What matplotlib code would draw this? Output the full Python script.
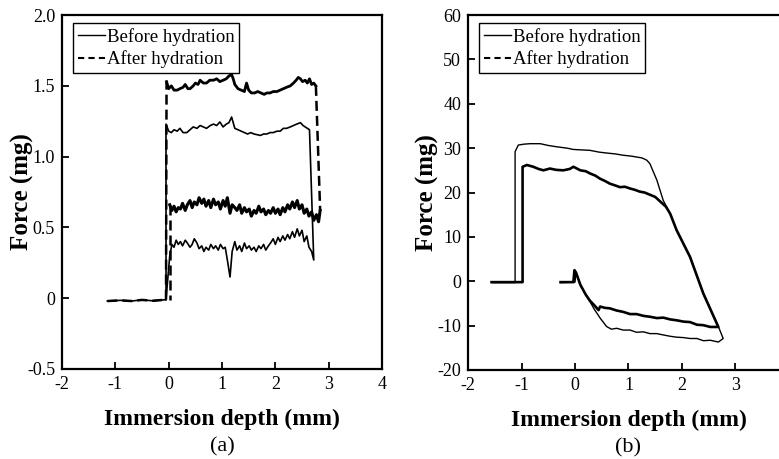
import matplotlib
matplotlib.use('Agg')
import matplotlib.pyplot as plt
from matplotlib.lines import Line2D

plt.rcParams['font.family'] = ['Liberation Serif', 'DejaVu Serif']
plt.rcParams['axes.unicode_minus'] = False
plt.rcParams['xtick.direction'] = 'in'
plt.rcParams['ytick.direction'] = 'in'

# ---------------- panel (a) ----------------
a_base_x = [-1.15, -0.9, -0.7, -0.5, -0.3, -0.1, -0.05]
a_base_y = [-0.02, -0.015, -0.02, -0.012, -0.018, -0.012, -0.01]

# before hydration, advancing
a_bef_adv_x = [-0.05, 0.0, 0.05, 0.1, 0.16, 0.21, 0.27, 0.34, 0.4, 0.46,
               0.53, 0.59, 0.65, 0.71, 0.78, 0.84, 0.9, 0.96, 1.02, 1.08,
               1.13, 1.18, 1.24, 1.3, 1.36, 1.42, 1.48, 1.54, 1.6, 1.66,
               1.72, 1.78, 1.84, 1.9, 1.96, 2.03, 2.09, 2.15, 2.21, 2.28,
               2.34, 2.4, 2.47, 2.52, 2.56, 2.6, 2.64]
a_bef_adv_y = [1.23, 1.18, 1.17, 1.19, 1.18, 1.20, 1.17, 1.17, 1.19, 1.21,
               1.20, 1.22, 1.21, 1.20, 1.22, 1.23, 1.22, 1.245, 1.21, 1.23,
               1.24, 1.28, 1.20, 1.19, 1.18, 1.17, 1.16, 1.17, 1.16, 1.155,
               1.15, 1.16, 1.16, 1.17, 1.17, 1.18, 1.18, 1.20, 1.20, 1.21,
               1.22, 1.23, 1.24, 1.22, 1.21, 1.20, 1.19]

# before hydration, receding
a_bef_rec_x = [0.02, 0.06, 0.1, 0.14, 0.18, 0.22, 0.26, 0.31, 0.35, 0.4,
               0.44, 0.48, 0.53, 0.57, 0.62, 0.66, 0.7, 0.75, 0.79, 0.84,
               0.88, 0.93, 0.97, 1.02, 1.06, 1.1, 1.15, 1.19, 1.24, 1.28,
               1.33, 1.37, 1.42, 1.46, 1.51, 1.55, 1.6, 1.64, 1.69, 1.73,
               1.78, 1.82, 1.87, 1.91, 1.96, 2.0, 2.05, 2.09, 2.14, 2.18,
               2.23, 2.27, 2.32, 2.36, 2.41, 2.45, 2.5, 2.54, 2.59, 2.63,
               2.68, 2.72]
a_bef_rec_y = [0.30, 0.38, 0.36, 0.41, 0.38, 0.40, 0.37, 0.41, 0.39, 0.36,
               0.38, 0.42, 0.39, 0.35, 0.37, 0.33, 0.36, 0.34, 0.38, 0.35,
               0.37, 0.34, 0.38, 0.35, 0.36, 0.27, 0.15, 0.33, 0.40, 0.34,
               0.37, 0.33, 0.39, 0.35, 0.37, 0.34, 0.36, 0.33, 0.37, 0.35,
               0.38, 0.34, 0.37, 0.39, 0.42, 0.38, 0.43, 0.40, 0.44, 0.41,
               0.45, 0.42, 0.47, 0.43, 0.49, 0.44, 0.48, 0.40, 0.44, 0.36,
               0.33, 0.27]

# after hydration, advancing
a_aft_adv_x = [-0.04, 0.0, 0.05, 0.1, 0.16, 0.21, 0.27, 0.31, 0.36, 0.4,
               0.46, 0.5, 0.55, 0.59, 0.65, 0.71, 0.77, 0.84, 0.9, 0.96,
               1.02, 1.08, 1.13, 1.18, 1.21, 1.24, 1.3, 1.36, 1.42, 1.46,
               1.5, 1.55, 1.61, 1.67, 1.73, 1.79, 1.84, 1.9, 1.96, 2.03,
               2.09, 2.15, 2.21, 2.28, 2.34, 2.39, 2.43, 2.47, 2.51, 2.56,
               2.6, 2.64, 2.68, 2.72, 2.76]
a_aft_adv_y = [1.53, 1.48, 1.50, 1.47, 1.47, 1.48, 1.49, 1.51, 1.48, 1.48,
               1.50, 1.52, 1.51, 1.54, 1.52, 1.52, 1.54, 1.54, 1.55, 1.53,
               1.54, 1.55, 1.57, 1.58, 1.55, 1.51, 1.48, 1.47, 1.46, 1.52,
               1.47, 1.45, 1.45, 1.46, 1.45, 1.44, 1.45, 1.45, 1.46, 1.46,
               1.47, 1.48, 1.49, 1.50, 1.52, 1.54, 1.56, 1.55, 1.53, 1.54,
               1.52, 1.55, 1.51, 1.52, 1.50]

# after hydration, receding
a_aft_rec_x = [0.02, 0.06, 0.1, 0.14, 0.18, 0.22, 0.26, 0.31, 0.35, 0.4,
               0.44, 0.48, 0.53, 0.57, 0.62, 0.66, 0.7, 0.75, 0.79, 0.84,
               0.88, 0.93, 0.97, 1.02, 1.06, 1.1, 1.15, 1.19, 1.24, 1.28,
               1.33, 1.37, 1.42, 1.46, 1.51, 1.55, 1.6, 1.64, 1.69, 1.73,
               1.78, 1.82, 1.87, 1.91, 1.96, 2.0, 2.05, 2.09, 2.14, 2.18,
               2.23, 2.27, 2.32, 2.36, 2.41, 2.45, 2.5, 2.54, 2.59, 2.63,
               2.68, 2.72, 2.77, 2.81, 2.84]
a_aft_rec_y = [0.66, 0.62, 0.65, 0.61, 0.64, 0.63, 0.67, 0.62, 0.66, 0.69,
               0.64, 0.68, 0.66, 0.71, 0.67, 0.70, 0.65, 0.69, 0.64, 0.70,
               0.66, 0.68, 0.63, 0.69, 0.65, 0.71, 0.60, 0.66, 0.64, 0.62,
               0.66, 0.60, 0.64, 0.61, 0.63, 0.58, 0.62, 0.60, 0.65, 0.61,
               0.63, 0.59, 0.62, 0.60, 0.64, 0.60, 0.63, 0.59, 0.64, 0.61,
               0.66, 0.63, 0.68, 0.64, 0.69, 0.63, 0.66, 0.60, 0.63, 0.58,
               0.61, 0.55, 0.59, 0.54, 0.62]

a_yticks = [-0.5, 0, 0.5, 1.0, 1.5, 2.0]
a_yticklabels = ['-0.5', '0', '0.5', '1.0', '1.5', '2.0']

# ---------------- panel (b) ----------------
b_bef_x = [-1.55, -1.12, -1.12, -1.06, -0.95, -0.84, -0.65, -0.5, -0.34,
           -0.15, -0.03, 0.12, 0.28, 0.45, 0.59, 0.75, 0.9, 1.05, 1.15,
           1.25, 1.34, 1.4, 1.53, 1.65, 1.78, 1.9, 2.15, 2.4, 2.68, 2.77,
           2.68, 2.53, 2.4, 2.28, 2.15, 2.03, 1.9, 1.78, 1.65, 1.53, 1.4,
           1.28, 1.15, 1.03, 0.9, 0.78, 0.68, 0.59, 0.47, 0.36, 0.28, 0.2,
           0.1, 0.02, 0.0, -0.27]
b_bef_y = [-0.3, -0.3, 29.2, 30.7, 30.9, 31.0, 31.0, 30.6, 30.3, 30.0,
           29.7, 29.6, 29.5, 29.1, 28.9, 28.7, 28.4, 28.2, 28.0, 27.8,
           27.3, 26.5, 22.8, 18.2, 15.2, 11.5, 5.5, -2.8, -10.2, -12.9,
           -13.7, -13.3, -13.4, -12.9, -12.9, -12.7, -12.6, -12.4, -12.1,
           -11.8, -11.8, -11.4, -11.5, -11.0, -11.0, -10.6, -10.8, -10.2,
           -8.3, -6.3, -4.6, -3.0, -0.8, 2.1, -0.2, -0.3]

b_aft_x = [-1.56, -0.98, -0.98, -0.9, -0.78, -0.68, -0.59, -0.47, -0.35,
           -0.22, -0.1, -0.03, 0.1, 0.2, 0.28, 0.38, 0.47, 0.56, 0.65, 0.75,
           0.84, 0.93, 1.03, 1.12, 1.21, 1.3, 1.4, 1.5, 1.59, 1.7, 1.78,
           1.9, 2.15, 2.4, 2.68, 2.53, 2.4, 2.28, 2.15, 2.03, 1.9, 1.78,
           1.65, 1.53, 1.4, 1.28, 1.15, 1.03, 0.9, 0.78, 0.65, 0.56, 0.47,
           0.44, 0.36, 0.28, 0.2, 0.1, 0.02, -0.01, -0.03, -0.27]
b_aft_y = [-0.2, -0.2, 25.8, 26.2, 25.8, 25.3, 25.0, 25.4, 25.1, 25.0,
           25.3, 25.8, 25.0, 24.8, 24.3, 23.8, 23.1, 22.6, 22.0, 21.6,
           21.2, 21.3, 20.9, 20.6, 20.2, 20.0, 19.5, 19.0, 18.0, 16.8, 15.2,
           11.5, 5.5, -2.8, -10.3, -10.3, -9.9, -9.8, -9.2, -9.1, -8.8,
           -8.6, -8.2, -8.3, -8.0, -7.8, -7.4, -7.4, -6.9, -6.6, -6.1, -6.0,
           -5.7, -6.5, -5.4, -4.4, -3.0, -0.8, 1.9, 2.5, -0.2, -0.2]

b_yticks = [-20, -10, 0, 10, 20, 30, 40, 50, 60]
b_yticklabels = ['-20', '-10', '0', '10', '20', '30', '40', '50', '60']

x_ticks = [-2, -1, 0, 1, 2, 3, 4]
x_ticklabels = ['-2', '-1', '0', '1', '2', '3', '4']

legend_labels = ['Before hydration', 'After hydration']


def style_axes(ax, yticks, yticklabels, ylim, tag):
    ax.set_xlim(-2, 4)
    ax.set_ylim(*ylim)
    ax.set_xticks(x_ticks)
    ax.set_xticklabels(x_ticklabels)
    ax.set_yticks(yticks)
    ax.set_yticklabels(yticklabels)
    ax.tick_params(labelsize=13, length=5, width=1.3, pad=5,
                   top=False, right=False)
    for s in ax.spines.values():
        s.set_linewidth(1.6)
    ax.set_xlabel('Immersion depth (mm)', fontsize=17, fontweight='bold',
                  va='center')
    ax.xaxis.set_label_coords(0.5, -0.143)
    ax.set_ylabel('Force (mg)', fontsize=18, fontweight='bold', va='center')
    ax.yaxis.set_label_coords(-0.125, 0.5)
    ax.text(0.5, -0.22, tag, transform=ax.transAxes, fontsize=16,
            ha='center', va='center')
    handles = [Line2D([], [], color='black', lw=1.0),
               Line2D([], [], color='black', lw=1.5, dashes=(3, 2))]
    leg = ax.legend(handles, legend_labels, loc='upper left',
                    bbox_to_anchor=(0.035, 0.977), borderaxespad=0,
                    fontsize=13.5, handlelength=1.45, handletextpad=0.1,
                    labelspacing=0.25, borderpad=0.25, fancybox=False,
                    framealpha=1, edgecolor='black')
    leg.get_frame().set_linewidth(1.0)


fig = plt.figure(figsize=(7.79, 4.59), dpi=100)
ax1 = fig.add_axes([0.0796, 0.1961, 0.4108, 0.771])
ax2 = fig.add_axes([0.6008, 0.1939, 0.412, 0.7734])

# (a) before hydration: one thin solid path
bx = a_base_x + a_bef_adv_x + a_bef_rec_x[::-1] + [a_base_x[-1]]
by = a_base_y + a_bef_adv_y + a_bef_rec_y[::-1] + [a_base_y[-1]]
ax1.plot(bx, by, color='black', lw=1.2)

# (a) after hydration: noisy plateaus thick, transitions dashed
ax1.plot(a_aft_adv_x, a_aft_adv_y, color='black', lw=2.0)
ax1.plot(a_aft_rec_x, a_aft_rec_y, color='black', lw=2.2)
dash = dict(color='black', lw=1.8, dashes=(4, 2))
ax1.plot(a_base_x, a_base_y, **dash)
ax1.plot([a_base_x[-1], a_aft_adv_x[0]], [a_base_y[-1], a_aft_adv_y[0]], **dash)
ax1.plot([a_aft_adv_x[-1], a_aft_rec_x[-1]],
         [a_aft_adv_y[-1], a_aft_rec_y[-1]], **dash)
ax1.plot([a_aft_rec_x[0], a_aft_rec_x[0]], [a_aft_rec_y[0], a_base_y[-1]], **dash)

style_axes(ax1, a_yticks, a_yticklabels, (-0.5, 2.0), '(a)')

# (b)
ax2.plot(b_bef_x, b_bef_y, color='black', lw=1.0)
ax2.plot(b_aft_x, b_aft_y, color='black', lw=1.9)
style_axes(ax2, b_yticks, b_yticklabels, (-20, 60), '(b)')

fig.savefig('out.png', dpi=100)
